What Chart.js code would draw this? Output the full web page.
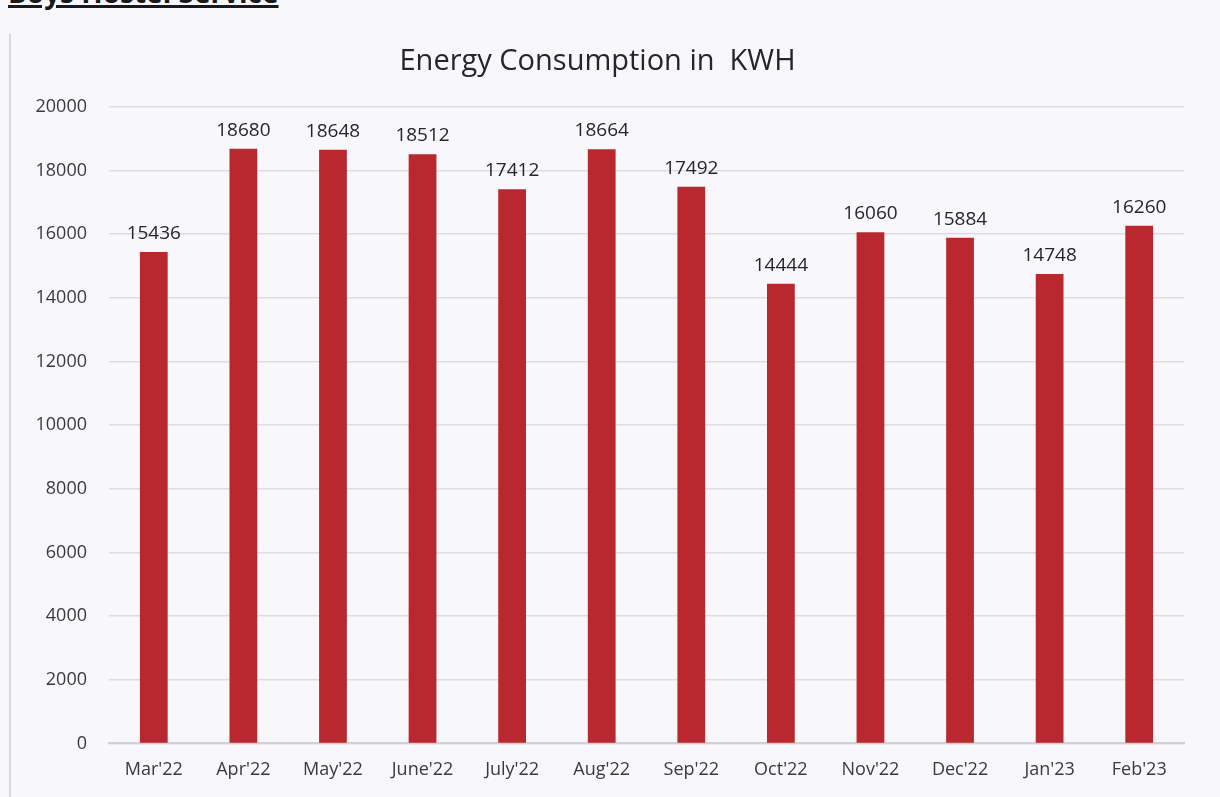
<!DOCTYPE html>
<html>
<head>
<meta charset="utf-8">
<script src="https://cdn.jsdelivr.net/npm/chart.js@4/dist/chart.umd.min.js"></script>
<style>
  body { margin: 0; background: #f8f8fc; overflow: hidden; }
  #wrap { position: relative; width: 1220px; height: 797px; }
  #header {
    position: absolute; left: 8px; top: -27px;
    font-family: "Open Sans", sans-serif; font-weight: bold; font-size: 28px;
    color: #1a1a1a; text-decoration: underline; text-decoration-thickness: 3px;
    white-space: nowrap;
  }
  #frame { position: absolute; left: 9px; top: 34px; width: 2px; height: 763px; background: #d8d8de; }
  #chart { position: absolute; left: 11px; top: 0; }
</style>
</head>
<body>
<div id="wrap">
  <div id="header">Boys Hostel Service</div>
  <div id="frame"></div>
  <canvas id="chart" width="1209" height="797"></canvas>
</div>
<script>
const months = ["Mar'22", "Apr'22", "May'22", "June'22", "July'22", "Aug'22", "Sep'22", "Oct'22", "Nov'22", "Dec'22", "Jan'23", "Feb'23"];
const kwh = [15436, 18680, 18648, 18512, 17412, 18664, 17492, 14444, 16060, 15884, 14748, 16260];
const yTicks = [0, 2000, 4000, 6000, 8000, 10000, 12000, 14000, 16000, 18000, 20000];

const fontFamily = '"Open Sans", "Noto Sans", sans-serif';

// draw the value above every bar
const valueLabels = {
  id: 'valueLabels',
  afterDatasetsDraw(chart) {
    const ctx = chart.ctx;
    const meta = chart.getDatasetMeta(0);
    ctx.save();
    ctx.font = '19px ' + fontFamily;
    ctx.fillStyle = '#262626';
    ctx.textAlign = 'center';
    ctx.textBaseline = 'bottom';
    meta.data.forEach((bar, i) => {
      ctx.fillText(kwh[i], bar.x, bar.y - 9);
    });
    ctx.restore();
  }
};

const ctx = document.getElementById('chart').getContext('2d');
new Chart(ctx, {
  type: 'bar',
  data: {
    labels: months,
    datasets: [{
      label: 'KWH',
      data: kwh,
      backgroundColor: '#b9282e',
      barPercentage: 0.31,
      categoryPercentage: 1
    }]
  },
  options: {
    responsive: false,
    animation: false,
    layout: { padding: { top: 0, right: 36, bottom: 0, left: 0 } },
    plugins: {
      legend: { display: false },
      tooltip: { enabled: false },
      title: {
        display: true,
        text: 'Energy Consumption in  KWH',
        color: '#262626',
        font: { family: fontFamily, size: 29, weight: 'normal' },
        padding: { top: 44, bottom: 28 }
      }
    },
    scales: {
      x: {
        grid: { display: false, drawTicks: false },
        border: { color: '#d0d0d6', width: 2 },
        ticks: { color: '#3a3a3a', font: { family: fontFamily, size: 18 }, padding: 16, maxRotation: 0, autoSkip: false }
      },
      y: {
        min: 0,
        max: 20000,
        afterFit(scale) { scale.width = 98; },
        afterBuildTicks(scale) { scale.ticks = yTicks.map(v => ({ value: v })); },
        grid: { color: '#dcdce2', lineWidth: 1.5, drawTicks: false },
        border: { display: false },
        ticks: {
          color: '#3a3a3a',
          font: { family: fontFamily, size: 18 },
          padding: 22,
          callback: v => String(v)
        }
      }
    }
  },
  plugins: [valueLabels]
});
</script>
</body>
</html>
